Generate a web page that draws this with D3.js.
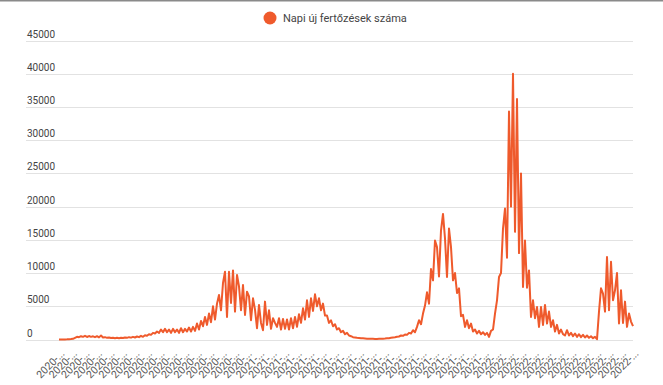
<!DOCTYPE html>
<html>
<head>
<meta charset="utf-8">
<script src="https://cdn.jsdelivr.net/npm/d3@7"></script>
<style>
  body { margin: 0; background: #fff; font-family: Roboto, "Noto Sans", sans-serif; }
</style>
</head>
<body>
<div id="chart"></div>
<script>
// series name shown in the legend
var seriesName = "Napi új fertőzések száma";

// daily new infections (about two samples per week)
var cases2020 = [
    0, 0, 10, 10, 20, 40, 60, 100, 250, 400,
    350, 500, 400, 550, 380, 520, 400, 480, 350, 500,
    320, 600, 300, 350, 250, 300, 220, 260, 200, 250,
    200, 260, 220, 300, 250, 350, 280, 400, 300, 450,
    350, 550, 400, 650, 550, 800, 700, 1000, 900, 1200,
    1000, 1500, 1100, 1600, 1100, 1500, 1000, 1600, 1100, 1500,
    1000, 1700, 1100, 1600, 1200, 1800, 1200, 1900, 1300, 2400,
    1500, 2800, 2000, 3400, 2200, 3900, 2600, 5000, 3000, 5400,
    6700, 4400, 8500, 10200, 3400, 10200, 5500, 10400, 4200, 9700,
    8000, 4400, 8200, 3700, 7200, 6500, 2900, 6200, 4500, 1700
];
var cases2021 = [
    5200, 2500, 1400, 5700, 2200, 4400, 1600, 3200, 2500, 1900,
    3200, 1500, 3100, 1600, 3000, 1500, 3200, 1700, 3400, 1900,
    3800, 2500, 4700, 3000, 5900, 3400, 6200, 4300, 6800, 5000,
    6200, 4400, 5400, 3600, 3600, 2500, 2900, 2000, 2300, 1500,
    1700, 1100, 1300, 800, 1000, 600, 500, 350, 300, 250,
    220, 180, 170, 150, 130, 120, 110, 100, 90, 90,
    100, 110, 130, 150, 180, 200, 250, 300, 330, 400,
    450, 600, 550, 750, 700, 1000, 900, 1400, 1100, 1900,
    2900, 2300, 3900, 5100, 7100, 5400, 10600, 8900, 14900, 13900,
    9500, 16400, 18900, 15200, 9400, 16700, 13900, 8900, 10000, 7000,
    7700, 3500, 3700, 1900, 2900, 1700, 2400, 1200, 1500, 900,
    1300, 800, 1100, 700, 1000, 400, 1300, 1500
];
var cases2022 = [
    3900, 5900, 9400, 10000, 16700, 19700, 12300, 34300, 20000, 40000,
    16200, 36200, 13000, 25000, 7900, 14900, 7800, 10400, 3400, 5900,
    3200, 4900, 1900, 4900, 2200, 5200, 2400, 4200, 1900, 2900,
    1200, 2200, 900, 1500, 800, 600, 1400, 600, 1000, 500,
    900, 400, 800, 350, 700, 300, 600, 250, 500, 200,
    400, 50, 4200, 7700, 6900, 4200, 12400, 4400, 11700, 5900,
    7400, 10000, 2400, 7400, 2500, 5700, 1900, 3900, 2700, 2000
];

// category labels on the x axis (truncated dates)
var xLabels2020 = ["2020-...", "2020-...", "2020-...", "2020-...", "2020-...", "2020-...", "2020-...", "2020-...",
                   "2020-...", "2020-...", "2020-...", "2020-...", "2020-...", "2020-...", "2020-...", "2020-..."];
var xLabels2021 = ["2021-...", "2021-...", "2021-...", "2021-...", "2021-...", "2021-...", "2021-...", "2021-...",
                   "2021-...", "2021-...", "2021-...", "2021-...", "2021-...", "2021-...", "2021-...", "2021-...",
                   "2021-...", "2021-...", "2021-..."];
var xLabels2022 = ["2022-...", "2022-...", "2022-...", "2022-...", "2022-...", "2022-...",
                   "2022-...", "2022-...", "2022-...", "2022-...", "2022-...", "2022-..."];

var yTicks = [0, 5000, 10000, 15000, 20000, 25000, 30000, 35000, 40000, 45000];

// layout
var width = 663;
var height = 385;
var area = {left: 26, right: 633, top: 40.5, bottom: 339.5};
var lineLeft = 59;
var lineColor = '#ef5a2c';
var textColor = '#444';

var cases = cases2020.concat(cases2021, cases2022);
var xLabels = xLabels2020.concat(xLabels2021, xLabels2022);

var svg = d3.select('#chart')
    .append('svg')
    .attr('width', width)
    .attr('height', height);

// thin frame line on top
svg.append('rect')
    .attr('x', 0).attr('y', 0)
    .attr('width', width).attr('height', 1.5)
    .style('fill', '#8a8a8a');

var x = d3.scaleLinear()
    .domain([0, cases.length - 1])
    .range([lineLeft, area.right]);

var xTick = d3.scalePoint()
    .domain(d3.range(xLabels.length))
    .range([lineLeft, area.right]);

var y = d3.scaleLinear()
    .domain([0, 45000])
    .range([area.bottom, area.top]);

// gridlines + labels sitting inside the plot
var grid = svg.append('g');
grid.selectAll('line')
    .data(yTicks)
    .enter().append('line')
    .attr('x1', area.left)
    .attr('x2', area.right)
    .attr('y1', function(d) { return Math.round(y(d)) + 0.5; })
    .attr('y2', function(d) { return Math.round(y(d)) + 0.5; })
    .style('stroke', '#e2e2e2')
    .style('stroke-width', 1);

grid.selectAll('text')
    .data(yTicks)
    .enter().append('text')
    .attr('x', area.left + 1)
    .attr('y', function(d) { return Math.round(y(d)) - 3; })
    .style('font-size', '10px')
    .style('fill', textColor)
    .text(function(d) { return d; });

// x axis labels, rotated
svg.append('g').selectAll('text')
    .data(xLabels)
    .enter().append('text')
    .attr('transform', function(d, i) {
        return 'translate(' + (xTick(i) + 1) + ',' + 349 + ') rotate(-45)';
    })
    .attr('dy', '0.71em')
    .style('text-anchor', 'end')
    .style('font-size', '10.5px')
    .style('fill', '#555')
    .text(function(d) { return d; });

// the series
var line = d3.line()
    .x(function(d, i) { return x(i); })
    .y(function(d) { return y(d); });

svg.append('path')
    .datum(cases)
    .attr('d', line)
    .style('fill', 'none')
    .style('stroke', lineColor)
    .style('stroke-width', 2)
    .style('stroke-linejoin', 'round');

// legend
var legend = svg.append('g');
legend.append('circle')
    .attr('cx', 270)
    .attr('cy', 18)
    .attr('r', 6.5)
    .style('fill', lineColor);
legend.append('text')
    .attr('x', 283)
    .attr('y', 22)
    .style('font-size', '11px')
    .style('fill', textColor)
    .text(seriesName);
</script>
</body>
</html>
